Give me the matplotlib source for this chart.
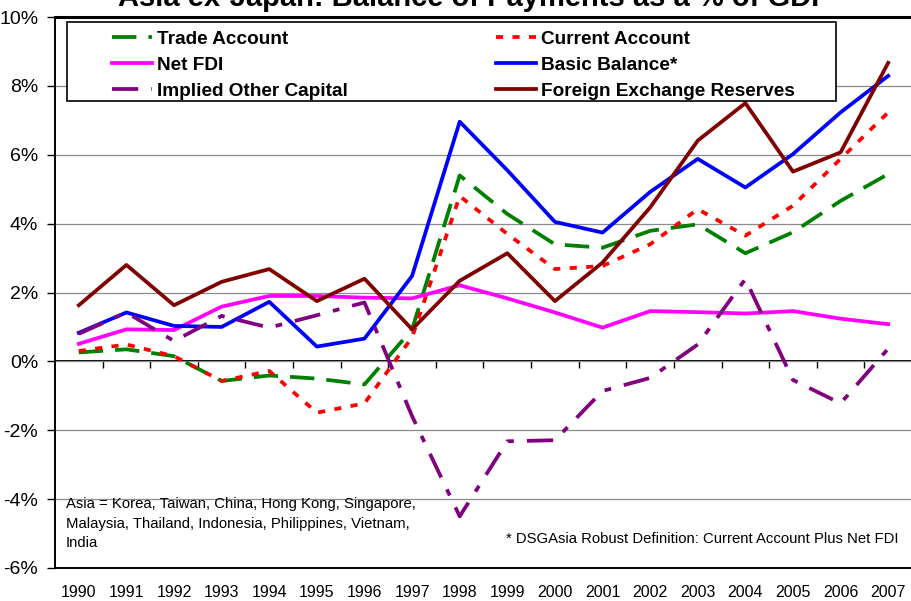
import matplotlib
matplotlib.use("Agg")
import matplotlib.pyplot as plt
from matplotlib.patches import Rectangle
from matplotlib.ticker import FuncFormatter, FixedLocator

plt.rcParams["font.family"] = ["Liberation Sans", "DejaVu Sans"]

years = [str(y) for y in range(1990, 2008)]

trade_account = [0.26, 0.35, 0.15, -0.57, -0.41, -0.50, -0.67, 0.93, 5.40, 4.28,
                 3.40, 3.30, 3.79, 3.98, 3.14, 3.75, 4.66, 5.44]
current_account = [0.30, 0.49, 0.15, -0.57, -0.28, -1.49, -1.22, 0.70, 4.80, 3.70,
                   2.68, 2.77, 3.40, 4.42, 3.65, 4.52, 5.88, 7.23]
net_fdi = [0.51, 0.93, 0.91, 1.59, 1.90, 1.90, 1.85, 1.83, 2.21, 1.83,
           1.42, 0.98, 1.46, 1.43, 1.39, 1.46, 1.24, 1.08]
basic_balance = [0.83, 1.42, 1.03, 1.00, 1.73, 0.43, 0.66, 2.48, 6.96, 5.55,
                 4.05, 3.74, 4.92, 5.88, 5.05, 6.02, 7.23, 8.29]
implied_other = [0.80, 1.42, 0.59, 1.32, 0.98, 1.34, 1.71, -1.59, -4.50, -2.32,
                 -2.29, -0.86, -0.48, 0.49, 2.39, -0.54, -1.22, 0.37]
fx_reserves = [1.63, 2.80, 1.63, 2.31, 2.68, 1.75, 2.40, 0.93, 2.34, 3.14,
               1.75, 2.87, 4.47, 6.41, 7.50, 5.51, 6.07, 8.67]

x = list(range(len(years)))

fig = plt.figure(figsize=(9.12, 6.01), dpi=100)
ax = fig.add_axes([55 / 912, 1 - 568 / 601, 857 / 912, 551 / 601])

lw = 2.7
ax.plot(x, trade_account, color="#008000", lw=lw, dashes=(6.5, 3.2), label="Trade Account")
ax.plot(x, current_account, color="#FF0000", lw=lw, dashes=(1.9, 2.5), label="Current Account")
ax.plot(x, net_fdi, color="#FF00FF", lw=lw, label="Net FDI")
ax.plot(x, basic_balance, color="#0000FF", lw=lw, label="Basic Balance*")
ax.plot(x, implied_other, color="#800080", lw=lw, dashes=(7, 3.5, 1.8, 3.5),
        label="Implied Other Capital")
ax.plot(x, fx_reserves, color="#800000", lw=lw, label="Foreign Exchange Reserves")

ax.set_xlim(-0.5, len(years) - 0.5)
ax.set_ylim(-6, 10)
ax.set_yticks(range(-6, 11, 2))
ax.yaxis.set_major_formatter(FuncFormatter(lambda v, _: f"{v:.0f}%"))
ax.grid(axis="y", color="#8c8c8c", lw=0.9)
ax.set_axisbelow(True)
ax.tick_params(axis="y", labelsize=14, length=6, width=1, pad=6)

ax.set_xticks(x)
ax.set_xticklabels(years)
ax.tick_params(axis="x", labelsize=11.5, length=0, pad=12)

for side in ["top", "bottom", "left", "right"]:
    ax.spines[side].set_linewidth(1.4)
    ax.spines[side].set_color("black")
ax.spines["top"].set_linewidth(2.2)

# category axis crossing at zero, ticks between categories
zero_axis = ax.secondary_xaxis(6 / 16)
zero_axis.xaxis.set_major_locator(FixedLocator([i + 0.5 for i in x[:-1]]))
zero_axis.tick_params(axis="x", direction="out", length=5, width=1, labelbottom=False)
zero_axis.spines["bottom"].set_linewidth(1.4)

# legend box drawn separately so the margins match the original
ax.add_patch(Rectangle((12.3 / 857, 467.3 / 551), 768.7 / 857, 78.4 / 551,
                       transform=ax.transAxes, facecolor="white", edgecolor="black",
                       lw=1.2, zorder=3))
handles, labels = ax.get_legend_handles_labels()
order = [0, 2, 4, 1, 3, 5]
leg = ax.legend([handles[i] for i in order], [labels[i] for i in order],
                ncol=2, loc="upper left", frameon=False,
                bbox_to_anchor=(57.3 / 857, 537.5 / 551),
                prop={"weight": "bold", "size": 13.7}, handlelength=2.1,
                handletextpad=0.26, labelspacing=0.45, columnspacing=7.8,
                borderpad=0, borderaxespad=0)
leg.set_zorder(5)

ax.text(11 / 857, 71 / 551,
        "Asia = Korea, Taiwan, China, Hong Kong, Singapore,\n"
        "Malaysia, Thailand, Indonesia, Philippines, Vietnam,\nIndia",
        transform=ax.transAxes, ha="left", va="top", fontsize=10.7, linespacing=1.52)
ax.text(844 / 857, 29 / 551, "* DSGAsia Robust Definition: Current Account Plus Net FDI",
        transform=ax.transAxes, ha="right", va="center", fontsize=10.7)

fig.text(474 / 912, 1 - 6 / 601, "Asia ex-Japan: Balance of Payments as a % of GDP",
         ha="center", va="baseline", fontsize=21, fontweight="bold")

fig.savefig("out.png", dpi=100)
